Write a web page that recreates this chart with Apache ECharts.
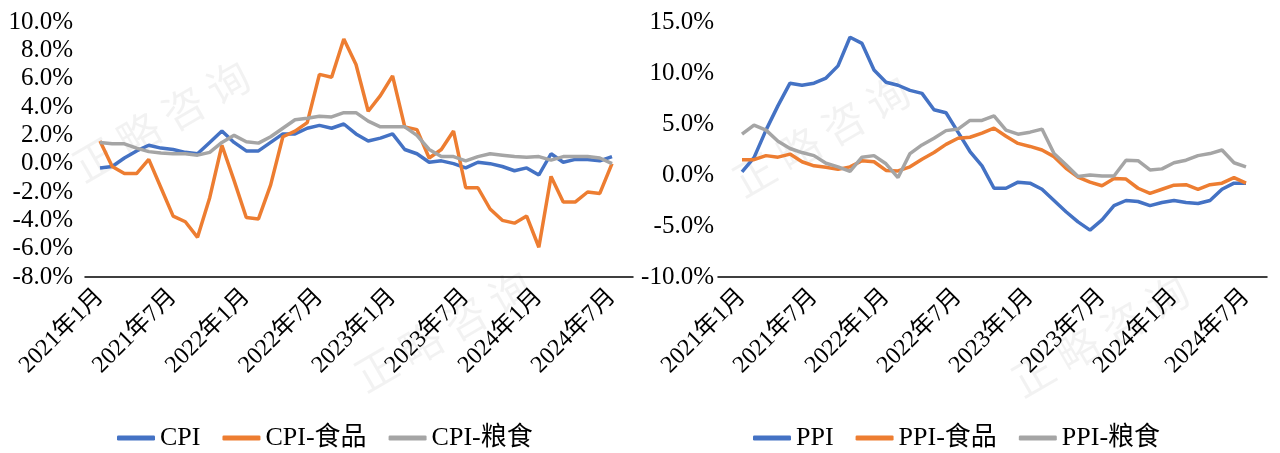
<!DOCTYPE html>
<html>
<head>
<meta charset="utf-8">
<script src="https://cdn.jsdelivr.net/npm/echarts@6/dist/echarts.min.js"></script>
<style>
html,body{margin:0;padding:0;background:#fff;}
#chart{width:1280px;height:453px;}
</style>
</head>
<body>
<div id="chart"></div>
<script>
// ---- categories: 2021年1月 .. 2024年7月 ----
var months = [];
for (var y = 2021; y <= 2024; y++) {
  for (var m = 1; m <= 12; m++) {
    if (y === 2024 && m > 7) break;
    months.push(y + '年' + m + '月');
  }
}

// ---- left chart (%, YoY) ----
var cpi = [-0.3,-0.2,0.4,0.9,1.3,1.1,1.0,0.8,0.7,1.5,2.3,1.5,
           0.9,0.9,1.5,2.1,2.1,2.5,2.7,2.5,2.8,2.1,1.6,1.8,
           2.1,1.0,0.7,0.1,0.2,0.0,-0.3,0.1,0.0,-0.2,-0.5,-0.3,
           -0.8,0.7,0.1,0.3,0.3,0.2,0.5];
var cpiFood = [1.6,-0.2,-0.7,-0.7,0.3,-1.7,-3.7,-4.1,-5.2,-2.4,1.3,-1.2,
               -3.8,-3.9,-1.5,1.9,2.3,2.9,6.3,6.1,8.8,7.0,3.7,4.8,
               6.2,2.6,2.4,0.4,1.0,2.3,-1.7,-1.7,-3.2,-4.0,-4.2,-3.7,
               -5.9,-0.9,-2.7,-2.7,-2.0,-2.1,0.0];
var cpiGrain = [1.5,1.4,1.4,1.1,0.85,0.75,0.7,0.7,0.6,0.8,1.5,2.0,
                1.55,1.45,1.9,2.5,3.1,3.2,3.35,3.3,3.6,3.6,3.0,2.6,
                2.6,2.6,2.0,1.0,0.5,0.5,0.2,0.5,0.7,0.6,0.5,0.45,
                0.5,0.25,0.5,0.5,0.5,0.4,0.0];

// ---- right chart (%, YoY) ----
var ppi = [0.3,1.7,4.4,6.8,9.0,8.8,9.0,9.5,10.7,13.5,12.9,10.3,
           9.1,8.8,8.3,8.0,6.4,6.1,4.2,2.3,0.9,-1.3,-1.3,-0.7,
           -0.8,-1.4,-2.5,-3.6,-4.6,-5.4,-4.4,-3.0,-2.5,-2.6,-3.0,-2.7,
           -2.5,-2.7,-2.8,-2.5,-1.4,-0.8,-0.8];
var ppiFood = [1.5,1.5,1.9,1.75,2.05,1.3,0.9,0.75,0.55,0.8,1.4,1.3,
               0.45,0.4,0.8,1.55,2.2,3.0,3.6,3.7,4.1,4.6,3.8,3.1,
               2.8,2.45,1.8,0.65,-0.2,-0.7,-1.05,-0.35,-0.4,-1.3,-1.8,-1.4,
               -1.0,-0.95,-1.4,-0.95,-0.8,-0.25,-0.8];
var ppiGrain = [4.0,4.9,4.4,3.3,2.6,2.2,1.9,1.15,0.8,0.35,1.75,1.9,
                1.1,-0.25,2.1,2.95,3.6,4.35,4.5,5.35,5.35,5.8,4.4,4.0,
                4.2,4.5,2.1,1.0,-0.15,0.0,-0.1,-0.1,1.45,1.4,0.5,0.6,
                1.2,1.45,1.9,2.1,2.45,1.2,0.8];

var leftNames = ['CPI','CPI-食品','CPI-粮食'];
var rightNames = ['PPI','PPI-食品','PPI-粮食'];
var colors = ['#4472C4','#ED7D31','#A5A5A5'];
var FONT = '"Liberation Serif","Times New Roman","Noto Sans CJK SC",serif';

var chart = echarts.init(document.getElementById('chart'), null, {renderer:'canvas'});

function pct(v){ return v.toFixed(1) + '%'; }

function dataX(gi){
  return {
    type:'category', gridIndex:gi, data:months, boundaryGap:false,
    axisLine:{show:false}, axisTick:{show:false}, splitLine:{show:false},
    axisLabel:{interval:5, rotate:45, margin:16, color:'#000', fontSize:24, fontFamily:FONT}
  };
}
function decoX(gi){
  return {
    type:'value', gridIndex:gi, min:0, max:1,
    axisLine:{show:true, lineStyle:{color:'#000', width:1.5}},
    axisTick:{show:false}, axisLabel:{show:false}, splitLine:{show:false}
  };
}
function decoY(gi){
  return {type:'value', gridIndex:gi, min:0, max:1, show:false};
}
function lineSeries(name, data, ci, xi){
  return {
    name:name, type:'line', data:data, xAxisIndex:xi, yAxisIndex:xi,
    symbol:'none', smooth:false,
    lineStyle:{color:colors[ci], width:3.5}, itemStyle:{color:colors[ci]}
  };
}

var wmStyle = {text:'正 略 咨 询', fontSize:42, fill:'rgba(0,0,0,0.05)',
  fontFamily:'"Noto Sans CJK SC",sans-serif', textAlign:'center', textVerticalAlign:'middle'};
function wm(x, y){
  return {type:'text', x:x, y:y, rotation:Math.PI/6, silent:true, z:-1,
    style:Object.assign({}, wmStyle)};
}

var legendText = {color:'#000', fontSize:26, fontFamily:FONT};

var option = {
  backgroundColor:'#fff',
  animation:false,
  graphic:[wm(161,121), wm(443,331), wm(821,136), wm(1100,336)],
  grid:[
    {left:100, width:512, top:22, height:255},
    {left:742, width:504, top:22, height:255},
    {left:85, width:548, top:22, height:255},
    {left:718, width:549, top:22, height:255}
  ],
  xAxis:[dataX(0), dataX(1), decoX(2), decoX(3)],
  yAxis:[
    {type:'value', gridIndex:0, min:-8, max:10, interval:2,
     axisLine:{show:false}, axisTick:{show:false}, splitLine:{show:false},
     axisLabel:{formatter:pct, margin:27, color:'#000', fontSize:25, fontFamily:FONT}},
    {type:'value', gridIndex:1, min:-10, max:15, interval:5,
     axisLine:{show:false}, axisTick:{show:false}, splitLine:{show:false},
     axisLabel:{formatter:pct, margin:28, color:'#000', fontSize:25, fontFamily:FONT}},
    decoY(2), decoY(3)
  ],
  legend:[
    {data:leftNames, left:112, top:420, itemWidth:38, itemHeight:5, itemGap:22, icon:'roundRect',
     textStyle:legendText},
    {data:rightNames, left:748, top:420, itemWidth:38, itemHeight:5, itemGap:22, icon:'roundRect',
     textStyle:legendText}
  ],
  series:[
    lineSeries(leftNames[0], cpi, 0, 0),
    lineSeries(leftNames[1], cpiFood, 1, 0),
    lineSeries(leftNames[2], cpiGrain, 2, 0),
    lineSeries(rightNames[0], ppi, 0, 1),
    lineSeries(rightNames[1], ppiFood, 1, 1),
    lineSeries(rightNames[2], ppiGrain, 2, 1)
  ]
};
chart.setOption(option);
</script>
</body>
</html>
